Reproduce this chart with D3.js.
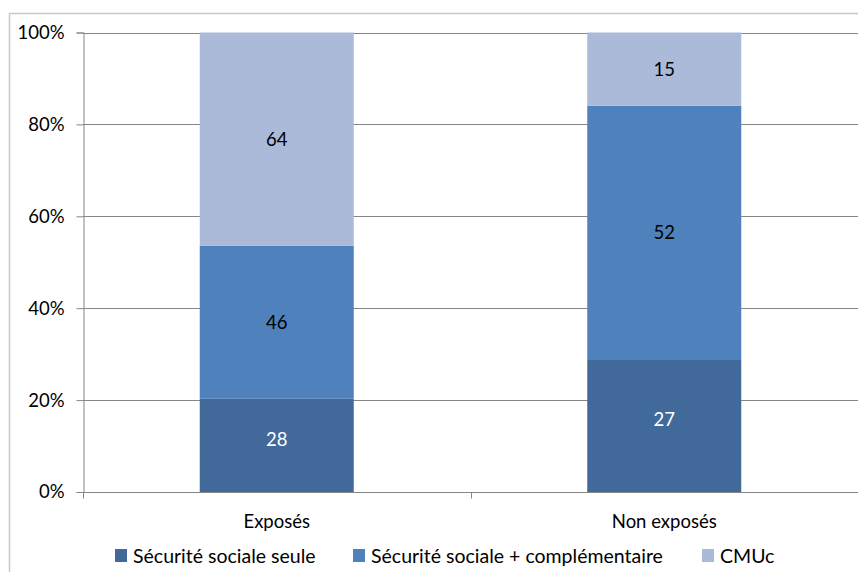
<!DOCTYPE html>
<html><head><meta charset="utf-8">
<script src="https://cdn.jsdelivr.net/npm/d3@7"></script>
<style>body{margin:0;background:#fff;} text{font-family:Lato,"Open Sans",sans-serif;}</style>
</head><body>
<svg id="c" width="858" height="572"></svg>
<script>
const categories = ["Exposés", "Non exposés"];
const seriesNames = ["Sécurité sociale seule", "Sécurité sociale + complémentaire", "CMUc"];
const secuSeule = [28, 27];
const secuCompl = [46, 52];
const cmuc = [64, 15];
const yTicks = [0, 0.2, 0.4, 0.6, 0.8, 1.0];
const colors = ["#41699A", "#4F81BD", "#AABAD8"];

const FS = 18.5;
const svg = d3.select("#c");
const m = {left: 83, right: 858, top: 32.5, bottom: 492};

// chart border
svg.append("rect").attr("x", 9.5).attr("y", 13.5).attr("width", 860).attr("height", 570)
  .attr("fill", "none").attr("stroke", "#c8c8c8").attr("stroke-width", 1.5);

const x = d3.scaleBand().domain(categories).range([m.left, m.right]).paddingInner(0).paddingOuter(0);
const y = d3.scaleLinear().domain([0, 1]).range([m.bottom, m.top]);

// gridlines
svg.append("g").selectAll("line").data(yTicks.slice(1)).join("line")
  .attr("x1", m.left).attr("x2", m.right)
  .attr("y1", d => Math.round(y(d)) + 0.5).attr("y2", d => Math.round(y(d)) + 0.5)
  .attr("stroke", "#868686").attr("stroke-width", 1);

const data = categories.map((c, i) => {
  const vals = [secuSeule[i], secuCompl[i], cmuc[i]];
  const tot = d3.sum(vals);
  let acc = 0;
  return vals.map((v, k) => {
    const y0 = acc / tot; acc += v; const y1 = acc / tot;
    return {cat: c, k, v, y0, y1};
  });
}).flat();

const barW = 154;
svg.append("g").selectAll("rect").data(data).join("rect")
  .attr("x", d => x(d.cat) + x.bandwidth() / 2 - barW / 2)
  .attr("width", barW)
  .attr("y", d => y(d.y1))
  .attr("height", d => y(d.y0) - y(d.y1))
  .attr("fill", d => colors[d.k]);

svg.append("g").selectAll("text").data(data).join("text")
  .attr("x", d => x(d.cat) + x.bandwidth() / 2)
  .attr("y", d => y((d.y0 + d.y1) / 2) - (d.k === 0 ? 6 : 0))
  .attr("dy", "0.35em")
  .attr("text-anchor", "middle")
  .attr("font-size", FS)
  .attr("fill", d => d.k === 0 ? "#ffffff" : "#000000")
  .text(d => d.v);

// y axis
const yAxis = d3.axisLeft(y).tickValues(yTicks).tickSize(7).tickPadding(12).tickFormat(d3.format(".0%"));
const ga = svg.append("g").attr("transform", `translate(${m.left + 0.5},0)`).call(yAxis);
ga.select(".domain").attr("stroke", "#868686");
ga.selectAll(".tick line").attr("stroke", "#868686");
ga.selectAll(".tick text").attr("font-size", FS).attr("fill", "#000").attr("font-family", "Lato,'Open Sans',sans-serif");

// x axis
const gx = svg.append("g").attr("transform", `translate(0,${Math.round(m.bottom) + 0.5})`);
gx.append("line").attr("x1", m.left).attr("x2", m.right).attr("stroke", "#868686");
const bounds = [m.left, x(categories[1]), m.right];
gx.selectAll("line.t").data(bounds).join("line").attr("class", "t")
  .attr("x1", d => Math.round(d) + 0.5).attr("x2", d => Math.round(d) + 0.5)
  .attr("y1", 0).attr("y2", 6).attr("stroke", "#868686");
gx.selectAll("text").data(categories).join("text")
  .attr("x", d => x(d) + x.bandwidth() / 2)
  .attr("y", 35)
  .attr("text-anchor", "middle")
  .attr("font-size", FS).attr("fill", "#000")
  .text(d => d);

// legend
const legX = [115, 353, 702];
const lg = svg.append("g").selectAll("g").data(seriesNames).join("g")
  .attr("transform", (d, i) => `translate(${legX[i]},549)`);
lg.append("rect").attr("width", 12).attr("height", 13).attr("fill", (d, i) => colors[i]);
lg.append("text").attr("x", 18).attr("y", 7).attr("dy", "0.35em").attr("font-size", 19.5).attr("fill", "#000").text(d => d);
</script>
</body></html>
